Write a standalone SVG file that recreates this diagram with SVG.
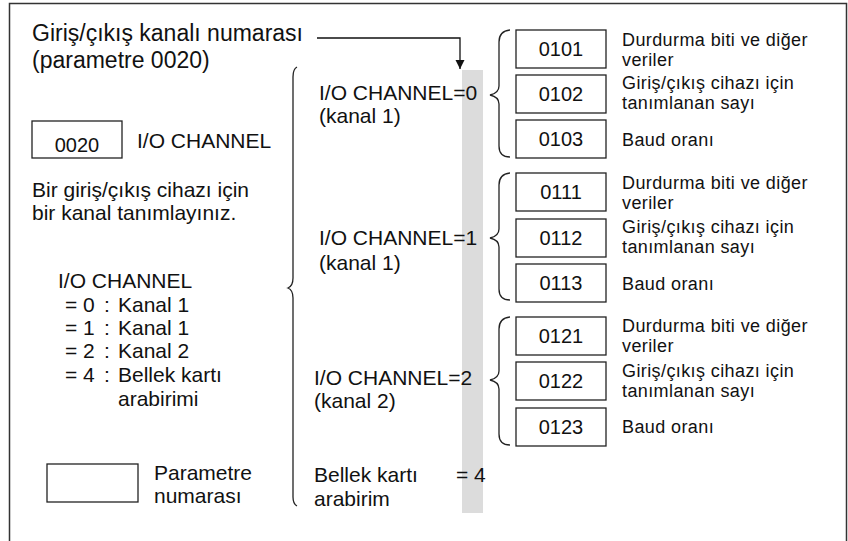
<svg xmlns="http://www.w3.org/2000/svg" width="848" height="541" viewBox="0 0 848 541">
<defs>
<style>
text{font-family:"Liberation Sans",Arial,sans-serif;fill:#111}
.t23{font-size:23px}
.t21{font-size:21px}
.t20{font-size:20px}
.t19{font-size:18px;letter-spacing:0.4px}
.box{fill:#fff;stroke:#222;stroke-width:1.3}
.brace{fill:none;stroke:#222;stroke-width:1.3}
.num{text-anchor:middle}
</style>
<marker id="arr" viewBox="0 0 10 10" refX="10" refY="5" markerWidth="9" markerHeight="14" markerUnits="userSpaceOnUse" orient="auto"><path d="M0,0 L10,5 L0,10 Z" fill="#111"/></marker>
</defs>
<rect width="848" height="541" fill="#fff"/>
<path d="M9.5,541 V3.5 H846.5 V541" fill="none" stroke="#333" stroke-width="1.5"/>
<rect x="462" y="70" width="21" height="443" fill="#dcdcdc"/>

<g id="title">
<text class="t23" x="32" y="41">Giriş/çıkış kanalı numarası</text>
<text class="t23" x="32" y="68">(parametre 0020)</text>
</g>
<g id="param0020">
<rect class="box" x="32" y="121" width="90" height="37"/>
<text class="t20 num" x="77" y="152">0020</text>
<text class="t21" x="137" y="148">I/O CHANNEL</text>
</g>
<g id="desc">
<text class="t21" x="32" y="197">Bir giriş/çıkış cihazı için</text>
<text class="t21" x="32" y="220">bir kanal tanımlayınız.</text>
</g>
<g id="list">
<text class="t21" x="58" y="288">I/O CHANNEL</text>
<text class="t21" y="312"><tspan x="65">=</tspan><tspan x="83">0</tspan><tspan x="104">:</tspan><tspan x="118">Kanal 1</tspan></text>
<text class="t21" y="335"><tspan x="65">=</tspan><tspan x="83">1</tspan><tspan x="104">:</tspan><tspan x="118">Kanal 1</tspan></text>
<text class="t21" y="358"><tspan x="65">=</tspan><tspan x="83">2</tspan><tspan x="104">:</tspan><tspan x="118">Kanal 2</tspan></text>
<text class="t21" y="382"><tspan x="65">=</tspan><tspan x="83">4</tspan><tspan x="104">:</tspan><tspan x="118">Bellek kartı</tspan></text>
<text class="t21" x="118" y="406">arabirimi</text>
</g>
<g id="legend">
<rect class="box" x="47" y="464" width="91" height="38"/>
<text class="t21" x="154" y="480">Parametre</text>
<text class="t21" x="154" y="503">numarası</text>
</g>

<g id="ch0">
<text class="t21" x="319" y="100">I/O CHANNEL=0</text>
<text class="t21" x="319" y="123">(kanal 1)</text>
</g>
<g id="ch1">
<text class="t21" x="319" y="245">I/O CHANNEL=1</text>
<text class="t21" x="319" y="270">(kanal 1)</text>
</g>
<g id="ch2">
<text class="t21" x="314" y="385">I/O CHANNEL=2</text>
<text class="t21" x="314" y="408">(kanal 2)</text>
</g>
<g id="ch4">
<text class="t21" x="314" y="482">Bellek kartı</text>
<text class="t21" x="314" y="506">arabirim</text>
<text class="t21" x="456" y="482">= 4</text>
</g>

<g id="p0101"><rect class="box" x="516" y="30" width="90" height="38"/><text class="t20 num" x="561" y="56">0101</text>
<text class="t19" x="622" y="46">Durdurma biti ve diğer</text><text class="t19" x="622" y="66">veriler</text></g>
<g id="p0102"><rect class="box" x="516" y="75" width="90" height="38"/><text class="t20 num" x="561" y="101">0102</text>
<text class="t19" x="622" y="89">Giriş/çıkış cihazı için</text><text class="t19" x="622" y="109">tanımlanan sayı</text></g>
<g id="p0103"><rect class="box" x="516" y="120" width="90" height="38"/><text class="t20 num" x="561" y="146">0103</text>
<text class="t19" x="622" y="146">Baud oranı</text></g>

<g id="p0111"><rect class="box" x="516" y="173" width="90" height="38"/><text class="t20 num" x="561" y="199">0111</text>
<text class="t19" x="622" y="189">Durdurma biti ve diğer</text><text class="t19" x="622" y="209">veriler</text></g>
<g id="p0112"><rect class="box" x="516" y="219" width="90" height="38"/><text class="t20 num" x="561" y="245">0112</text>
<text class="t19" x="622" y="233">Giriş/çıkış cihazı için</text><text class="t19" x="622" y="253">tanımlanan sayı</text></g>
<g id="p0113"><rect class="box" x="516" y="264" width="90" height="38"/><text class="t20 num" x="561" y="290">0113</text>
<text class="t19" x="622" y="290">Baud oranı</text></g>

<g id="p0121"><rect class="box" x="516" y="317" width="90" height="38"/><text class="t20 num" x="561" y="343">0121</text>
<text class="t19" x="622" y="332">Durdurma biti ve diğer</text><text class="t19" x="622" y="352">veriler</text></g>
<g id="p0122"><rect class="box" x="516" y="362" width="90" height="38"/><text class="t20 num" x="561" y="388">0122</text>
<text class="t19" x="622" y="377">Giriş/çıkış cihazı için</text><text class="t19" x="622" y="397">tanımlanan sayı</text></g>
<g id="p0123"><rect class="box" x="516" y="408" width="90" height="38"/><text class="t20 num" x="561" y="434">0123</text>
<text class="t19" x="622" y="433">Baud oranı</text></g>

<g id="connectors">
<path d="M317,38 H460 V69" fill="none" stroke="#111" stroke-width="1.3" marker-end="url(#arr)"/>
<path class="brace" d="M297,67 Q293,69 293,77 L293,278 Q293,286 288,288 Q293,290 293,298 L293,497 Q293,504 297,506"/>
<path class="brace" d="M510,30 Q499,31 499,42 L499,86 Q499,93 490,95 Q499,97 499,104 L499,146 Q499,157 510,157"/>
<path class="brace" d="M510,173 Q499,174 499,185 L499,229 Q499,236 490,238 Q499,240 499,247 L499,289 Q499,300 510,300"/>
<path class="brace" d="M510,317 Q499,318 499,329 L499,371 Q499,378 490,380 Q499,382 499,389 L499,434 Q499,445 510,445"/>
</g>
</svg>
